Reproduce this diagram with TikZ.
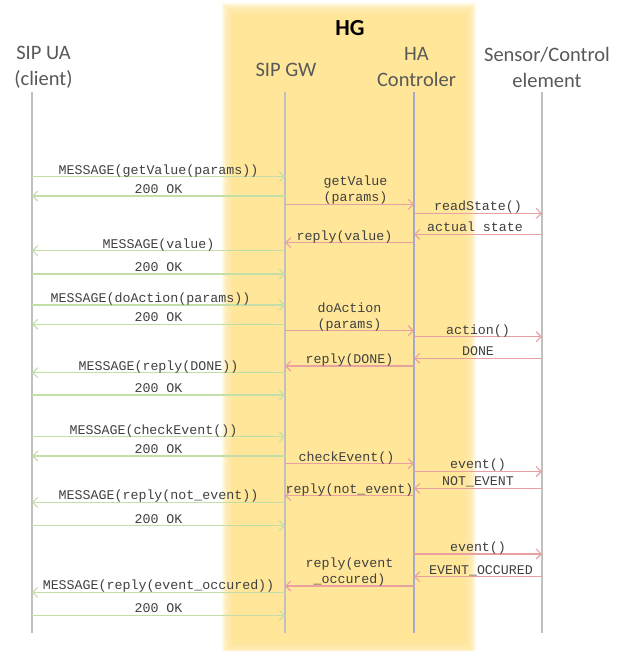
\documentclass[tikz,border=0pt]{standalone}
\usepackage{fontspec}
\setmainfont{Carlito}
\newfontfamily\monofnt{Liberation Mono}
\usetikzlibrary{arrows.meta}
\definecolor{hgyellow}{HTML}{FFE699}
\definecolor{gline}{HTML}{C3DEA8}
\definecolor{rline}{HTML}{E8A0A0}
\definecolor{llgray}{HTML}{C0C0C0}
\definecolor{llblue}{HTML}{A3AACC}
\definecolor{monotxt}{HTML}{404040}
\definecolor{sanstxt}{HTML}{595959}
\tikzset{
  barb/.tip={Straight Barb[length=5pt,width=10pt,line width=1.1pt]},
  gmsg/.style={draw=gline,line width=1.3pt,-barb},
  rmsg/.style={draw=rline,line width=1.3pt,-barb},
  lbl/.style={font=\monofnt\fontsize{13.3}{16}\selectfont,text=monotxt,anchor=south,inner sep=0pt,text depth=2pt,text height=7.5pt,align=center},
  lbl2/.style={lbl,font=\monofnt\fontsize{13.3}{16}\selectfont},
  hdr/.style={font=\fontsize{20.5}{26}\selectfont,text=sanstxt,align=center,inner sep=0pt},
  lifeline/.style={draw=llgray,line width=1.5pt},
  lifelineb/.style={draw=llblue,line width=1.3pt}
}
\begin{document}
\begin{tikzpicture}[x=1pt,y=-1pt]
\useasboundingbox (0,0) rectangle (619,651);
\fill[white] (0,0) rectangle (619,651);
% HG soft yellow band
\begin{scope}
\clip (0,0) rectangle (619,651);
\foreach \i in {1,...,12} {
  \fill[hgyellow,fill opacity=0.2] (234-\i,15-\i) rectangle (464+\i,642+\i);
}
\fill[hgyellow] (234,15) rectangle (464,642);
\end{scope}
\node[font=\bfseries\fontsize{23}{26}\selectfont,inner sep=0pt] (hg) at (350,28) {HG};
% headers
\node[hdr] (uah) at (43.5,67) {SIP UA\\(client)};
\node[hdr] (gwh) at (286,70) {SIP GW};
\node[hdr] (hah) at (416.5,67) {HA\\Controler};
\node[hdr] (seh) at (547,67) {Sensor/Control\\element};
% lifelines
\coordinate (ua) at (32,92);   \coordinate (uab) at (32,633);
\coordinate (gw) at (285,92);  \coordinate (gwb) at (285,633);
\coordinate (ha) at (414,92);  \coordinate (hab) at (414,633);
\coordinate (se) at (542,92);  \coordinate (seb) at (542,633);
\draw[lifeline] (ua) -- (uab);
\draw[lifeline] (gw) -- (gwb);
\draw[lifelineb] (ha) -- (hab);
\draw[lifeline] (se) -- (seb);
% getValue
\draw[gmsg] (ua |- 0,176.7) -- node[lbl]{MESSAGE(getValue(params))} (gw |- 0,176.7);
\draw[gmsg] (gw |- 0,196) -- node[lbl]{200 OK} (ua |- 0,196);
\draw[rmsg] (gw |- 0,204.3) -- node[lbl,xshift=6pt]{getValue\\(params)} (ha |- 0,204.3);
\draw[rmsg] (ha |- 0,213.3) -- node[lbl]{readState()} (se |- 0,213.3);
\draw[rmsg] (se |- 0,234.3) -- node[lbl,xshift=-3pt]{actual state} (ha |- 0,234.3);
\draw[rmsg] (ha |- 0,242.7) -- node[lbl,xshift=-5pt]{reply(value)} (gw |- 0,242.7);
\draw[gmsg] (gw |- 0,250.7) -- node[lbl]{MESSAGE(value)} (ua |- 0,250.7);
\draw[gmsg] (ua |- 0,274) -- node[lbl]{200 OK} (gw |- 0,274);
% doAction
\draw[gmsg] (ua |- 0,305) -- node[lbl,xshift=-8pt]{MESSAGE(doAction(params))} (gw |- 0,305);
\draw[gmsg] (gw |- 0,324.3) -- node[lbl]{200 OK} (ua |- 0,324.3);
\draw[rmsg] (gw |- 0,330.7) -- node[lbl]{doAction\\(params)} (ha |- 0,330.7);
\draw[rmsg] (ha |- 0,336.7) -- node[lbl]{action()} (se |- 0,336.7);
\draw[rmsg] (se |- 0,358.3) -- node[lbl]{DONE} (ha |- 0,358.3);
\draw[rmsg] (ha |- 0,366) -- node[lbl]{reply(DONE)} (gw |- 0,366);
\draw[gmsg] (gw |- 0,372.7) -- node[lbl]{MESSAGE(reply(DONE))} (ua |- 0,372.7);
\draw[gmsg] (ua |- 0,395) -- node[lbl]{200 OK} (gw |- 0,395);
% checkEvent
\draw[gmsg] (ua |- 0,436.7) -- node[lbl,xshift=-5pt]{MESSAGE(checkEvent())} (gw |- 0,436.7);
\draw[gmsg] (gw |- 0,456) -- node[lbl]{200 OK} (ua |- 0,456);
\draw[rmsg] (gw |- 0,463.7) -- node[lbl,xshift=-3pt]{checkEvent()} (ha |- 0,463.7);
\draw[rmsg] (ha |- 0,471.5) -- node[lbl]{event()} (se |- 0,471.5);
\draw[rmsg] (se |- 0,488.3) -- node[lbl]{NOT\_EVENT} (ha |- 0,488.3);
\draw[rmsg] (ha |- 0,495.7) -- node[lbl]{reply(not\_event)} (gw |- 0,495.7);
\draw[gmsg] (gw |- 0,502.3) -- node[lbl]{MESSAGE(reply(not\_event))} (ua |- 0,502.3);
\draw[gmsg] (ua |- 0,525.7) -- node[lbl]{200 OK} (gw |- 0,525.7);
% event occured
\draw[rmsg] (ha |- 0,554) -- node[lbl]{event()} (se |- 0,554);
\draw[rmsg] (se |- 0,576.7) -- node[lbl,xshift=3pt]{EVENT\_OCCURED} (ha |- 0,576.7);
\draw[rmsg] (ha |- 0,586) -- node[lbl]{reply(event\\\_occured)} (gw |- 0,586);
\draw[gmsg] (gw |- 0,592.3) -- node[lbl]{MESSAGE(reply(event\_occured))} (ua |- 0,592.3);
\draw[gmsg] (ua |- 0,615.3) -- node[lbl]{200 OK} (gw |- 0,615.3);
\end{tikzpicture}
\end{document}
